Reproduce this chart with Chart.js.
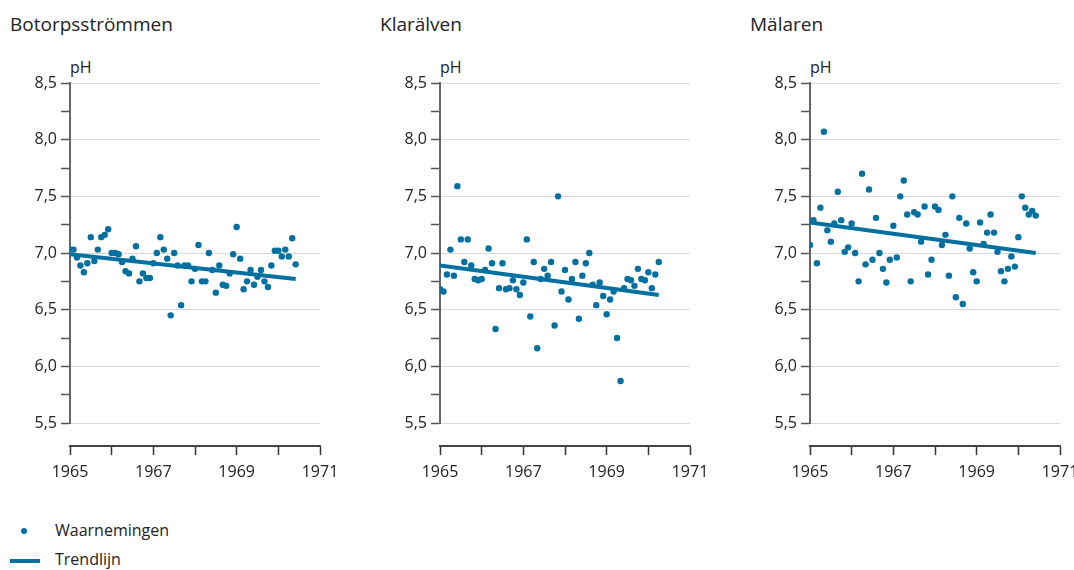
<!DOCTYPE html>
<html>
<head>
<meta charset="utf-8">
<script src="https://cdn.jsdelivr.net/npm/chart.js@4.4.1/dist/chart.umd.min.js"></script>
<style>
  html, body { margin: 0; padding: 0; width: 1074px; height: 570px; overflow: hidden; background: #fff; }
  body { position: relative; font-family: 'Open Sans', sans-serif; color: #222; }
  .panel { position: absolute; top: 0; width: 360px; height: 500px; }
  .title { position: absolute; top: 11px; font-size: 19px; }
  .unit { position: absolute; top: 56px; font-size: 16px; }
  .leg { position: absolute; left: 55px; font-size: 16px; }
  .dot { position: absolute; left: 21px; top: 528px; width: 6px; height: 6px; border-radius: 50%; background: #0070a0; }
  .bar { position: absolute; left: 10px; top: 559px; width: 30px; height: 4px; background: #0070a0; }
</style>
</head>
<body>
<div class="title" style="left:10px">Botorpsströmmen</div>
<div class="title" style="left:380px">Klarälven</div>
<div class="title" style="left:750px">Mälaren</div>
<div class="unit" style="left:70px">pH</div>
<div class="unit" style="left:440px">pH</div>
<div class="unit" style="left:810px">pH</div>
<div class="panel" style="left:0px"><canvas id="c1"></canvas></div>
<div class="panel" style="left:370px"><canvas id="c2"></canvas></div>
<div class="panel" style="left:740px"><canvas id="c3"></canvas></div>
<span class="dot"></span><div class="leg" style="top:519px">Waarnemingen</div>
<span class="bar"></span><div class="leg" style="top:548px">Trendlijn</div>
<script>
// monthly pH readings, first one January 1965
const startYear = 1965;
const xTicks = [1965, 1966, 1967, 1968, 1969, 1970, 1971];
const phTicks = [5.5, 5.75, 6, 6.25, 6.5, 6.75, 7, 7.25, 7.5, 7.75, 8, 8.25, 8.5];

const botorpValues = [7.03, 7.03, 6.96, 6.89, 6.83, 6.91, 7.14, 6.93, 7.03, 7.14, 7.16, 7.21,
  7.00, 7.00, 6.99, 6.92, 6.84, 6.82, 6.95, 7.06, 6.75, 6.82, 6.78, 6.78,
  6.91, 7.00, 7.14, 7.03, 6.95, 6.45, 7.00, 6.89, 6.54, 6.89, 6.89, 6.75,
  6.86, 7.07, 6.75, 6.75, 7.00, 6.85, 6.65, 6.89, 6.72, 6.71, 6.82, 6.99,
  7.23, 6.95, 6.68, 6.75, 6.85, 6.72, 6.79, 6.85, 6.75, 6.70, 6.89, 7.02,
  7.02, 6.97, 7.03, 6.97, 7.13, 6.90];
const klarValues = [6.68, 6.66, 6.81, 7.03, 6.80, 7.59, 7.12, 6.92, 7.12, 6.89, 6.77, 6.76,
  6.77, 6.85, 7.04, 6.91, 6.33, 6.69, 6.91, 6.68, 6.69, 6.76, 6.68, 6.63,
  6.74, 7.12, 6.44, 6.92, 6.16, 6.77, 6.86, 6.80, 6.92, 6.36, 7.50, 6.66,
  6.85, 6.59, 6.77, 6.92, 6.42, 6.80, 6.91, 7.00, 6.72, 6.54, 6.74, 6.62,
  6.46, 6.59, 6.66, 6.25, 5.87, 6.69, 6.77, 6.76, 6.71, 6.86, 6.77, 6.76,
  6.83, 6.69, 6.81, 6.92];
const malarValues = [7.07, 7.29, 6.91, 7.40, 8.07, 7.20, 7.10, 7.26, 7.54, 7.29, 7.01, 7.05,
  7.26, 7.00, 6.75, 7.70, 6.90, 7.56, 6.94, 7.31, 7.00, 6.86, 6.74, 6.94,
  7.24, 6.96, 7.50, 7.64, 7.34, 6.75, 7.36, 7.34, 7.10, 7.41, 6.81, 6.94,
  7.41, 7.38, 7.07, 7.16, 6.80, 7.50, 6.61, 7.31, 6.55, 7.26, 7.04, 6.83,
  6.75, 7.27, 7.08, 7.18, 7.34, 7.18, 7.01, 6.84, 6.75, 6.86, 6.97, 6.88,
  7.14, 7.50, 7.40, 7.34, 7.37, 7.33];

// trend line: value at first and at last observation
const botorpTrend = [6.99, 6.77];
const klarTrend = [6.89, 6.63];
const malarTrend = [7.27, 7.00];

const BLUE = '#0070a0';

function panel(id, values, trend) {
  const pts = values.map((v, i) => ({ x: startYear + i / 12, y: v }));
  const last = pts[pts.length - 1].x;
  new Chart(document.getElementById(id), {
    type: 'scatter',
    data: {
      datasets: [
        { type: 'line', data: [{ x: startYear, y: trend[0] }, { x: last, y: trend[1] }],
          borderColor: BLUE, borderWidth: 4, pointRadius: 0, borderCapStyle: 'butt', order: 2 },
        { data: pts, backgroundColor: BLUE, borderWidth: 0, pointRadius: 3.2, order: 1 },
      ],
    },
    options: {
      responsive: true,
      maintainAspectRatio: false,
      animation: false,
      events: [],
      layout: { padding: { top: 83, right: 40, left: 0, bottom: 0 } },
      plugins: { legend: { display: false }, tooltip: { enabled: false } },
      scales: {
        x: {
          type: 'linear', position: 'bottom', weight: 10, min: 1965, max: 1971,
          afterBuildTicks: s => { s.ticks = xTicks.map(v => ({ value: v })); },
          afterFit: s => { s.height = 54; },
          border: { display: true, color: '#444', width: 2 },
          grid: { drawOnChartArea: false, drawTicks: true, tickLength: 9, tickColor: '#333', tickWidth: 1.5 },
          ticks: { padding: 8, color: '#222', font: { family: "'Open Sans', sans-serif", size: 16 },
                   maxRotation: 0, autoSkip: false,
                   callback: v => (v % 2 === 1 ? String(v) : '') },
        },
        gap: {
          type: 'linear', position: 'bottom', weight: 0, display: true,
          afterFit: s => { s.height = 23; },
          border: { display: false }, grid: { display: false }, ticks: { display: false },
        },
        y: {
          min: 5.5, max: 8.5,
          afterBuildTicks: s => { s.ticks = phTicks.map(v => ({ value: v })); },
          afterFit: s => { s.width = 70; },
          border: { display: true, color: '#666', width: 2 },
          grid: {
            color: c => (c.tick && c.tick.value % 0.5 === 0 ? '#d9d9d9' : 'rgba(0,0,0,0)'),
            lineWidth: 1, tickLength: 9, tickColor: '#555', tickWidth: 1.5,
          },
          ticks: { padding: 4, color: '#222', font: { family: "'Open Sans', sans-serif", size: 16 },
                   autoSkip: false,
                   callback: v => (v % 0.5 === 0 ? v.toFixed(1).replace('.', ',') : '') },
        },
      },
    },
  });
}

panel('c1', botorpValues, botorpTrend);
panel('c2', klarValues, klarTrend);
panel('c3', malarValues, malarTrend);
</script>
</body>
</html>
